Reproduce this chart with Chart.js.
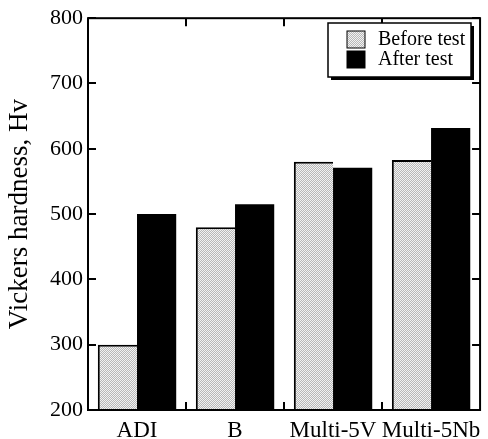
<!DOCTYPE html>
<html>
<head>
<meta charset="utf-8">
<script src="https://cdn.jsdelivr.net/npm/chart.js@4.4.1/dist/chart.umd.min.js"></script>
<style>
  html, body { margin: 0; padding: 0; background: #fff; }
  #wrap { width: 488px; height: 439px; position: relative; }
</style>
</head>
<body>
<div id="wrap"><canvas id="chart"></canvas></div>
<script>
const categories = ["ADI", "B", "Multi-5V", "Multi-5Nb"];
const beforeTest = [300, 480, 580, 583];
const afterTest = [500, 515, 571, 632];
const seriesNames = ["Before test", "After test"];
const yTicks = [200, 300, 400, 500, 600, 700, 800];

const FONT = "'Liberation Serif', 'Times New Roman', serif";

// fine gray screen for the "before" bars
function makeHatch() {
  const c = document.createElement('canvas');
  c.width = 4; c.height = 4;
  const g = c.getContext('2d');
  g.fillStyle = '#f2f2f2';
  g.fillRect(0, 0, 4, 4);
  g.fillStyle = '#b8b8b8';
  for (let i = 0; i < 4; i++) {
    g.fillRect(i, (3 - i) % 4, 1, 1);
    g.fillRect(i, (5 - i) % 4, 1, 1);
  }
  return g.createPattern(c, 'repeat');
}
const hatch = makeHatch();

// frame, inward ticks and boxed legend
const framePlugin = {
  id: 'frame',
  afterDraw(chart) {
    const ctx = chart.ctx;
    const a = chart.chartArea;
    const x = chart.scales.x, y = chart.scales.y;
    ctx.save();
    ctx.strokeStyle = '#000';
    ctx.lineWidth = 2;
    ctx.strokeRect(a.left, a.top, a.right - a.left, a.bottom - a.top);

    ctx.beginPath();
    yTicks.forEach(v => {
      const py = Math.round(y.getPixelForValue(v));
      ctx.moveTo(a.left, py); ctx.lineTo(a.left + 8, py);
      ctx.moveTo(a.right, py); ctx.lineTo(a.right - 8, py);
    });
    for (let i = 1; i < categories.length; i++) {
      const px = Math.round((x.getPixelForValue(i - 1) + x.getPixelForValue(i)) / 2);
      ctx.moveTo(px, a.bottom); ctx.lineTo(px, a.bottom - 8);
      ctx.moveTo(px, a.top); ctx.lineTo(px, a.top + 8);
    }
    ctx.stroke();

    // legend box
    const lx = 328, ly = 23, lw = 143, lh = 54;
    ctx.fillStyle = '#000';
    ctx.fillRect(lx + 3, ly + 3, lw, lh);
    ctx.fillStyle = '#fff';
    ctx.fillRect(lx, ly, lw, lh);
    ctx.lineWidth = 1.5;
    ctx.strokeRect(lx, ly, lw, lh);

    const fills = [hatch, '#000'];
    ctx.font = '20px ' + FONT;
    ctx.textBaseline = 'middle';
    seriesNames.forEach((name, i) => {
      const sy = ly + 8 + i * 20;
      ctx.fillStyle = fills[i];
      ctx.fillRect(lx + 19, sy, 18, 17);
      ctx.lineWidth = 1;
      ctx.strokeStyle = '#000';
      ctx.strokeRect(lx + 19, sy, 18, 17);
      ctx.fillStyle = '#000';
      ctx.fillText(name, lx + 50, sy + 9);
    });
    ctx.restore();
  }
};

new Chart(document.getElementById('chart'), {
  type: 'bar',
  data: {
    labels: categories,
    datasets: [
      {
        label: seriesNames[0],
        data: beforeTest,
        backgroundColor: hatch,
        borderColor: '#000',
        borderWidth: { top: 2, left: 2, right: 0, bottom: 0 },
        borderSkipped: false
      },
      {
        label: seriesNames[1],
        data: afterTest,
        backgroundColor: '#000',
        borderWidth: 0
      }
    ]
  },
  plugins: [framePlugin],
  options: {
    responsive: true,
    maintainAspectRatio: false,
    animation: false,
    layout: { padding: { top: 15, right: 6, left: 0, bottom: 0 } },
    plugins: {
      legend: { display: false },
      tooltip: { enabled: false }
    },
    datasets: {
      bar: { categoryPercentage: 0.8, barPercentage: 1.0 }
    },
    scales: {
      x: {
        grid: { display: false, drawTicks: false },
        border: { display: false },
        ticks: {
          color: '#000',
          font: { family: FONT, size: 23 },
          padding: 7,
          maxRotation: 0,
          autoSkip: false
        },
        afterFit(scale) { scale.height = 29; }
      },
      y: {
        min: 200,
        max: 800,
        grid: { display: false, drawTicks: false },
        border: { display: false },
        afterBuildTicks(scale) { scale.ticks = yTicks.map(v => ({ value: v })); },
        ticks: {
          color: '#000',
          font: { family: FONT, size: 22 },
          padding: 5
        },
        title: {
          display: true,
          text: 'Vickers hardness, Hv',
          color: '#000',
          font: { family: FONT, size: 27 },
          padding: { top: 4, bottom: 0 }
        },
        afterFit(scale) { scale.width = 88; }
      }
    }
  }
});
</script>
</body>
</html>
